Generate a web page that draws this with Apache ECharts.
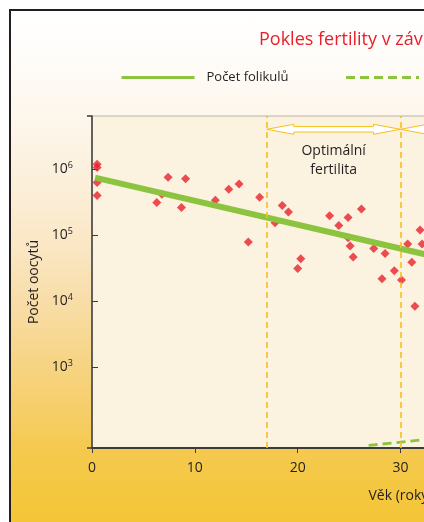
<!DOCTYPE html>
<html>
<head>
<meta charset="utf-8">
<script src="https://cdn.jsdelivr.net/npm/echarts@6/dist/echarts.min.js"></script>
<style>
  html, body { margin: 0; padding: 0; width: 424px; height: 522px; overflow: hidden; background: #ffffff; }
  #frame {
    position: absolute; left: 8.5px; top: 9px; width: 788px; height: 600px;
    box-sizing: border-box; border: 2.5px solid #231f20;
    background: linear-gradient(to bottom,
      #ffffff 0px, #fffdfa 40px, #fdf6eb 110px, #fbedd5 190px, #fae6c2 240px,
      #f8dda8 290px, #f6cf6e 390px, #f5c94e 440px, #f4c535 511px, #f4c330 600px);
  }
  #chart { position: absolute; left: 0; top: 0; width: 806px; height: 522px; }
</style>
</head>
<body>
<div id="frame"></div>
<div id="chart"></div>
<script>
// ---- data ----
const titleText = 'Pokles fertility v závislosti na věku';
const seriesNames = ['Počet folikulů', 'Pravděpodobnost neplodnosti'];
const xAxisName = 'Věk (roky)';
const yAxisName = 'Počet oocytů';

// individual measurements (age in years, number of oocytes)
const ages = [0.5, 0.5, 0.5, 0.5, 6.3, 6.8, 7.4, 8.7, 9.1, 12.0, 13.3, 14.3, 15.2, 16.3,
  17.8, 18.5, 19.1, 20.0, 20.3, 23.1, 24.0, 24.9, 24.9, 25.1, 25.4, 26.2,
  27.4, 28.2, 28.5, 29.4, 30.1, 30.7, 31.1, 31.4, 31.9, 32.1];
const oocytes = [1.2e6, 1.07e6, 6.3e5, 4.0e5, 3.15e5, 4.2e5, 7.6e5, 2.65e5, 7.2e5, 3.4e5, 5.0e5, 6.0e5, 7.9e4, 3.76e5,
  1.55e5, 2.84e5, 2.25e5, 3.15e4, 4.4e4, 1.98e5, 1.41e5, 9.2e4, 1.86e5, 6.9e4, 4.7e4, 2.5e5,
  6.3e4, 2.2e4, 5.3e4, 2.9e4, 2.1e4, 7.4e4, 3.9e4, 8.4e3, 1.2e5, 7.4e4];

// fitted trend (solid green)
const trendAges = [0.3, 33];
const trendValues = [7.5e5, 4.9e4];

// dashed green curve (secondary % scale)
const dashAges = [26.9, 29.6, 32.4];
const dashValues = [0.8, 1.6, 2.6];

// zones
const zoneStarts = [17, 30];
const zoneEnds = [30, 38];
const zoneLabels = ['Optimální\nfertilita', ''];
const zoneLines = [17, 30];

// axes
const xMin = 0, xMax = 60, xStep = 10;
const yMin = 59.6, yMax = 6.44e6;
const yTicks = [1e3, 1e4, 1e5, 1e6];
const pctMin = 0, pctMax = 100;

// ---- chart ----
const FONT = '"Open Sans", "Noto Sans", sans-serif';
const TEXT = '#231f20';
const AXIS = '#3b3b3b';
const GREEN = '#8cc43f';
const RED = '#e8202a';
const YEL = '#f5c01c';

const chart = echarts.init(document.getElementById('chart'), null, { renderer: 'canvas' });

const scatterData = ages.map((a, i) => [a, oocytes[i]]);
const trendData = trendAges.map((a, i) => [a, trendValues[i]]);
const dashData = dashAges.map((a, i) => [a, dashValues[i]]);
const zoneData = zoneStarts.map((s, i) => [s, zoneEnds[i]]);

chart.setOption({
  animation: false,
  textStyle: { fontFamily: FONT, color: TEXT },
  title: {
    text: titleText, left: 254, top: 26,
    textStyle: { color: '#e8202a', fontSize: 18, fontWeight: 'normal', fontFamily: FONT }
  },
  legend: {
    left: 115, top: 66, itemWidth: 73, itemHeight: 14, itemGap: 56,
    data: seriesNames,
    lineStyle: { width: 3 },
    itemStyle: { opacity: 0 },
    textStyle: { fontSize: 13, color: TEXT, fontFamily: FONT, padding: [0, 0, 0, 7] }
  },
  grid: {
    left: 92, top: 116, width: 617, height: 332,
    show: true, backgroundColor: '#fbf2df', borderColor: '#b9b3a8', borderWidth: 1
  },
  xAxis: {
    type: 'value', min: xMin, max: xMax, interval: xStep,
    name: xAxisName, nameLocation: 'middle', nameGap: 41,
    nameTextStyle: { fontSize: 14, color: TEXT, fontFamily: FONT },
    axisLine: { lineStyle: { color: AXIS, width: 2 } },
    axisTick: { inside: false, length: 5, lineStyle: { color: AXIS, width: 1 } },
    axisLabel: { fontSize: 14, color: TEXT, margin: 13, fontFamily: FONT },
    splitLine: { show: false }
  },
  yAxis: [
    {
      type: 'log', logBase: 10, min: yMin, max: yMax,
      name: yAxisName, nameLocation: 'middle', nameGap: 51,
      nameTextStyle: { fontSize: 14, color: TEXT, fontFamily: FONT },
      axisLine: { show: true, lineStyle: { color: AXIS, width: 1.5 } },
      axisTick: { show: true, inside: true, length: 6, customValues: yTicks, lineStyle: { color: AXIS, width: 1 } },
      axisLabel: {
        customValues: yTicks, margin: 19, color: TEXT,
        formatter: v => '{b|10}{s|' + Math.round(Math.log10(v)) + '}',
        rich: {
          b: { fontSize: 14, color: TEXT, fontFamily: FONT },
          s: { fontSize: 9, color: TEXT, fontFamily: FONT, padding: [0, 0, 8, 0] }
        }
      },
      splitLine: { show: false }
    },
    {
      type: 'log', logBase: 10, min: yMin, max: yMax, position: 'left',
      axisLine: { show: false },
      axisTick: { show: true, inside: false, length: 5, customValues: [yMin * 1.001, yMax / 1.001], lineStyle: { color: AXIS, width: 1.5 } },
      axisLabel: { show: false },
      splitLine: { show: false }
    },
    { type: 'value', min: pctMin, max: pctMax, show: false, splitLine: { show: false } }
  ],
  series: [
    {
      name: 'body', type: 'scatter', data: scatterData, symbol: 'diamond', symbolSize: 9,
      itemStyle: { color: RED }, z: 2, silent: true,
      markLine: {
        silent: true, symbol: 'none', label: { show: false },
        lineStyle: { color: YEL, width: 1.6, type: [6, 4] },
        data: zoneLines.map(v => ({ xAxis: v }))
      }
    },
    {
      name: seriesNames[0], type: 'line', data: trendData, symbol: 'none', z: 4,
      lineStyle: { color: GREEN, width: 6, cap: 'butt' }, itemStyle: { color: GREEN }
    },
    {
      name: seriesNames[1], type: 'line', yAxisIndex: 2, data: dashData, symbol: 'none', z: 4,
      lineStyle: { color: GREEN, width: 2.8, type: [9, 5] }, itemStyle: { color: GREEN }
    },
    {
      name: 'zones', type: 'custom', data: zoneData, z: 5, silent: true,
      encode: { x: [0, 1] },
      renderItem: (params, api) => {
        const x1 = api.coord([api.value(0), yMax])[0];
        const x2 = api.coord([api.value(1), yMax])[0];
        const top = params.coordSys.y;
        const y = top + 13.3, hl = 27, hh = 5, sh = 2.7;
        const pts = [
          [x1, y], [x1 + hl, y - hh], [x1 + hl, y - sh], [x2 - hl, y - sh], [x2 - hl, y - hh],
          [x2, y], [x2 - hl, y + hh], [x2 - hl, y + sh], [x1 + hl, y + sh], [x1 + hl, y + hh]
        ];
        return {
          type: 'group',
          children: [
            { type: 'polygon', shape: { points: pts }, style: { fill: '#ffffff', stroke: YEL, lineWidth: 1 } },
            {
              type: 'text', x: (x1 + x2) / 2, y: top + 26,
              style: {
                text: zoneLabels[params.dataIndex], align: 'center', verticalAlign: 'top',
                fontSize: 14, fontFamily: FONT, lineHeight: 19, fill: TEXT
              }
            }
          ]
        };
      }
    }
  ]
});
</script>
</body>
</html>
